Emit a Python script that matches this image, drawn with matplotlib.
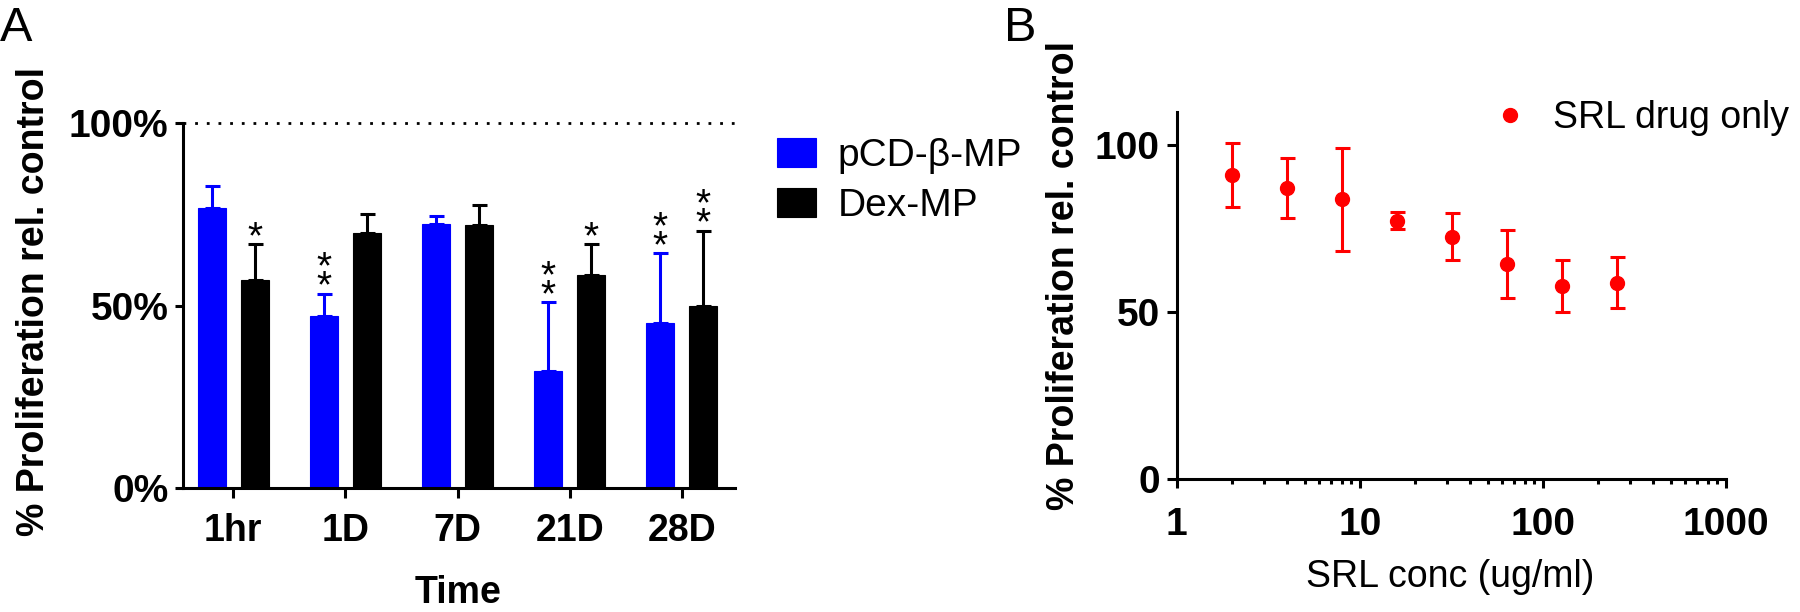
import matplotlib
matplotlib.use('Agg')
import matplotlib.pyplot as plt
import numpy as np

plt.rcParams['font.family'] = 'Liberation Sans'

# Panel A data
times = ['1hr', '1D', '7D', '21D', '28D']
pcd_mean = [76.7, 47.2, 72.3, 32.2, 45.4]
pcd_err = [6.1, 6.1, 2.4, 18.8, 19.0]
dex_mean = [57.2, 70.0, 72.1, 58.4, 50.0]
dex_err = [9.6, 5.2, 5.4, 8.4, 20.6]
pcd_stars = ['', '**', '', '**', '**']
dex_stars = ['*', '', '', '*', '**']

# Panel B data
srl_conc = [2, 4, 8, 16, 32, 64, 128, 256]
srl_mean = [91.1, 87.2, 83.8, 77.5, 72.7, 64.5, 57.9, 58.9]
srl_err = [9.5, 9.0, 15.3, 2.5, 7.1, 10.1, 7.7, 7.7]

blue = '#0000FF'
red = '#FF0000'
fs = 27
lw = 2.2

fig = plt.figure(figsize=(18, 6.12), dpi=100)
W, H = 1800, 612

def px_axes(l, t, r, b):
    return fig.add_axes([l / W, 1 - b / H, (r - l) / W, (b - t) / H])

# ---------- Panel A ----------
ax = px_axes(183.3, 123.3, 735, 488.3)
x = np.arange(len(times))
off, bw = 0.19, 0.25
ax.bar(x - off, pcd_mean, bw, color=blue, edgecolor=blue, linewidth=0.8, label='pCD-\u03b2-MP', zorder=2)
ax.bar(x + off, dex_mean, bw, color='black', edgecolor='black', linewidth=0.8, label='Dex-MP', zorder=2)
ax.errorbar(x - off, pcd_mean, yerr=[np.zeros(len(x)), pcd_err], fmt='none', ecolor=blue,
            elinewidth=lw, capsize=5.4, capthick=lw, zorder=1)
ax.errorbar(x + off, dex_mean, yerr=[np.zeros(len(x)), dex_err], fmt='none', ecolor='black',
            elinewidth=lw, capsize=5.4, capthick=lw, zorder=1)

def stars(a, xs, tops, marks):
    for xi, top, m in zip(xs, tops, marks):
        for k in range(len(m)):
            a.annotate('*', xy=(xi, top), xytext=(0, (-4 + 19 * k) * 0.72), textcoords='offset points',
                       ha='center', va='baseline', fontsize=28, annotation_clip=False)

stars(ax, x - off, np.add(pcd_mean, pcd_err), pcd_stars)
stars(ax, x + off, np.add(dex_mean, dex_err), dex_stars)

ax.axhline(100, color='black', lw=2, ls=(0, (1, 3.2)), clip_on=False)
ax.set_xlim(-0.446, 4.475)
ax.set_ylim(0, 100)
ax.set_yticks([0, 50, 100])
ax.set_yticklabels(['0%', '50%', '100%'])
ax.set_xticks(x)
ax.set_xticklabels(times)
for s in ['top', 'right']:
    ax.spines[s].set_visible(False)
for s in ['left', 'bottom']:
    ax.spines[s].set_linewidth(lw)
ax.tick_params(axis='y', length=8 * 0.72, width=lw, pad=5, labelsize=28)
ax.tick_params(axis='x', length=10 * 0.72, width=lw, pad=10.8, labelsize=fs)
for t in ax.get_xticklabels() + ax.get_yticklabels():
    t.set_fontweight('bold')
ax.set_ylabel('% Proliferation rel. control', fontsize=fs, fontweight='bold')
ax.yaxis.set_label_coords(-0.2706, 0.513)
ax.yaxis.label.set_va('center')
ax.set_xlabel('Time', fontsize=fs, fontweight='bold')
ax.xaxis.set_label_coords(0.498, -0.288)
ax.xaxis.label.set_va('center')
ax.legend(loc='upper left', bbox_to_anchor=(777 / W, 1 - 138 / H), bbox_transform=fig.transFigure,
          frameon=False, fontsize=28, handlelength=1.0, handleheight=0.75, handletextpad=0.55,
          labelspacing=0.36, borderpad=0, borderaxespad=0)

# ---------- Panel B ----------
bx = px_axes(1176.7, 112, 1725.7, 479.3)
bx.errorbar(srl_conc, srl_mean, yerr=srl_err, fmt='none', ecolor=red, elinewidth=lw,
            capsize=5.4, capthick=lw)
bx.plot(srl_conc, srl_mean, 'o', color=red, ms=10, label='SRL drug only')
bx.set_xscale('log')
bx.set_xlim(1, 1000)
bx.set_ylim(0, 110)
bx.set_yticks([0, 50, 100])
bx.set_xticks([1, 10, 100, 1000])
bx.set_xticklabels(['1', '10', '100', '1000'])
for s in ['top', 'right']:
    bx.spines[s].set_visible(False)
for s in ['left', 'bottom']:
    bx.spines[s].set_linewidth(lw)
bx.tick_params(axis='y', length=10 * 0.72, width=lw, pad=5, labelsize=28)
bx.tick_params(axis='x', which='major', length=9 * 0.72, width=lw, pad=13.7, labelsize=28)
bx.tick_params(axis='x', which='minor', length=4.7 * 0.72, width=lw)
for t in bx.get_xticklabels() + bx.get_yticklabels():
    t.set_fontweight('bold')
bx.set_ylabel('% Proliferation rel. control', fontsize=fs, fontweight='bold')
bx.yaxis.set_label_coords(-0.2053, 0.556)
bx.yaxis.label.set_va('center')
bx.set_xlabel('SRL conc (ug/ml)', fontsize=fs)
bx.xaxis.set_label_coords(0.498, -0.266)
bx.xaxis.label.set_va('center')
bx.legend(loc='upper left', bbox_to_anchor=(1495 / W, 1 - 100 / H), bbox_transform=fig.transFigure,
          frameon=False, fontsize=fs, handlelength=0.8, handletextpad=0.75, borderpad=0,
          borderaxespad=0)

fig.text(0, 1 - 6 / H, 'A', fontsize=35, va='top', ha='left')
fig.text(1004 / W, 1 - 6 / H, 'B', fontsize=35, va='top', ha='left')

fig.savefig('out.png', dpi=100)
